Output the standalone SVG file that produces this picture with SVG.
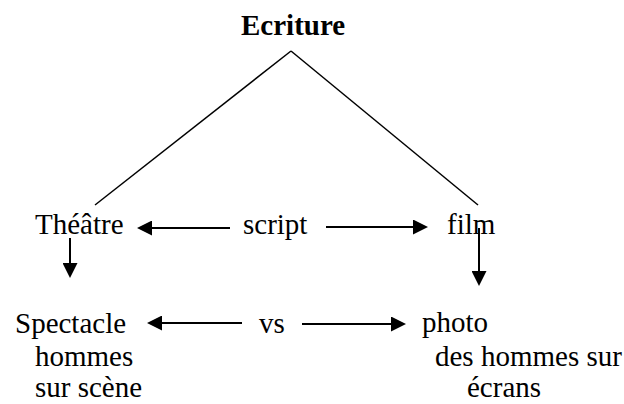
<svg xmlns="http://www.w3.org/2000/svg" width="624" height="404" viewBox="0 0 624 404">
<style>
text{font-family:"Liberation Serif","Times New Roman",serif;font-size:29px;fill:#000}
.b{font-weight:bold}
.ln{stroke:#000;stroke-width:1.5;fill:none}
.ar{stroke:#000;stroke-width:2;fill:none;marker-end:url(#ah)}
</style>
<defs>
<marker id="ah" markerUnits="userSpaceOnUse" markerWidth="16" markerHeight="15" refX="0" refY="7.5" orient="auto">
<path d="M0,0 L15,7.5 L0,15 z" fill="#000"/>
</marker>
</defs>
<g id="ecriture"><text class="b" x="241" y="35">Ecriture</text></g>
<g id="theatre"><text x="35" y="234">Théâtre</text></g>
<g id="script"><text x="243" y="234">script</text></g>
<g id="film"><text x="447" y="234">film</text></g>
<g id="spectacle"><text x="15" y="333">Spectacle</text><text x="35" y="366">hommes</text><text x="35" y="397">sur scène</text></g>
<g id="vs"><text x="259" y="333">vs</text></g>
<g id="photo"><text x="422" y="332">photo</text><text x="435" y="366">des hommes sur</text><text x="467" y="397">écrans</text></g>
<g id="connectors">
<line class="ln" x1="291" y1="51" x2="95" y2="205"/>
<line class="ln" x1="291" y1="51" x2="478" y2="205"/>
<line class="ar" x1="230" y1="228" x2="152" y2="228"/>
<line class="ar" x1="326" y1="227" x2="413" y2="227"/>
<line class="ar" x1="70" y1="238" x2="70" y2="263"/>
<line class="ar" x1="479" y1="228" x2="479" y2="271"/>
<line class="ar" x1="242" y1="323" x2="162" y2="323"/>
<line class="ar" x1="302" y1="324" x2="391" y2="324"/>
</g>
</svg>
